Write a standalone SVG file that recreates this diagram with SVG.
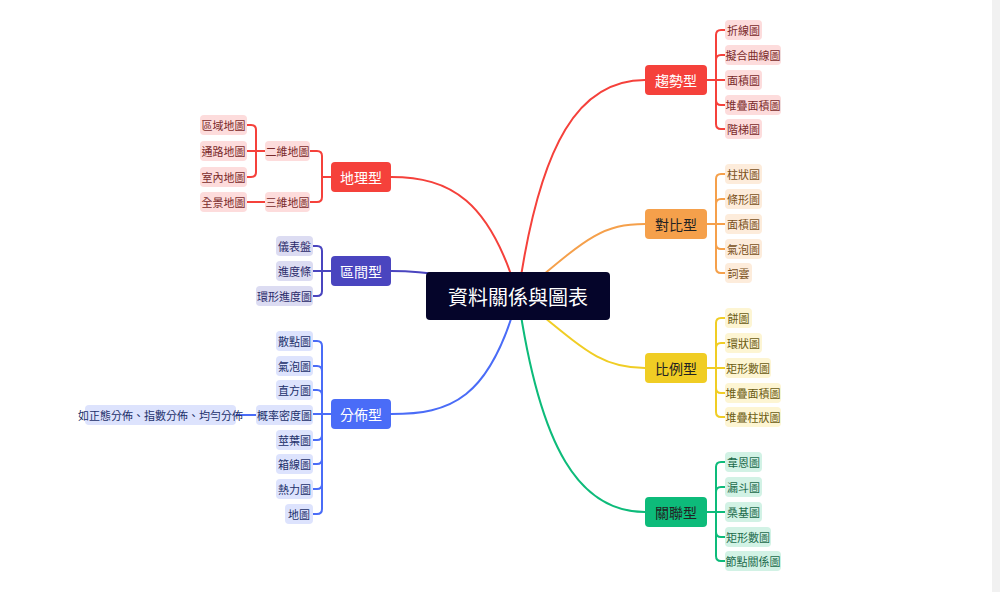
<svg xmlns="http://www.w3.org/2000/svg" width="1000" height="592" viewBox="0 0 1000 592">
<style>
text{font-family:"Noto Sans CJK TC","Noto Sans CJK SC",sans-serif;text-anchor:middle;dominant-baseline:central}
.c{fill:none;stroke-width:2}
.lf{font-size:11px}
.br{font-size:14px}
.red{stroke:#f5413b}.ora{stroke:#f5a04b}.yel{stroke:#f0cd24}.grn{stroke:#0dbb7a}.ind{stroke:#4a45bf}.blu{stroke:#4a6cf7}
</style>
<rect width="1000" height="592" fill="#fff"/>
<rect x="992" y="0" width="8" height="592" fill="#f1f1f1"/>
<g id="connectors">
<path class="c red" d="M518 296 C540 140 580 80 645 80"/>
<path class="c ora" d="M518 296 C585 240 600 224 645 224"/>
<path class="c yel" d="M518 296 C585 350 600 368 645 368"/>
<path class="c grn" d="M518 296 C540 450 580 512 645 512"/>
<path class="c red" d="M518 296 C490 200 450 177 391 177"/>
<path class="c ind" d="M518 296 C450 275 430 271 391 271"/>
<path class="c blu" d="M518 296 C490 400 450 414 391 414"/>
<path class="c red" stroke-width="1.5" d="M707 80H725M716 80V35Q716 30 721 30H725M716 60Q716 55 721 55H725M716 80V124Q716 129 721 129H725M716 100Q716 105 721 105H725"/>
<path class="c ora" stroke-width="1.5" d="M707 224H725M716 224V179Q716 174 721 174H725M716 204Q716 199 721 199H725M716 224V268Q716 273 721 273H725M716 244Q716 249 721 249H725"/>
<path class="c yel" stroke-width="1.5" d="M707 368H725M716 368V323Q716 318 721 318H725M716 348Q716 343 721 343H725M716 368V412Q716 417 721 417H725M716 388Q716 393 721 393H725"/>
<path class="c grn" stroke-width="1.5" d="M707 512H725M716 512V467Q716 462 721 462H725M716 492Q716 487 721 487H725M716 512V556Q716 561 721 561H725M716 532Q716 537 721 537H725"/>
<path class="c red" stroke-width="1.5" d="M331 177H322M322 177V156Q322 151 317 151H310M322 177V197Q322 202 317 202H310"/>
<path class="c red" stroke-width="1.5" d="M265 151H247M256 151V130Q256 125 251 125H247M256 151V172Q256 177 251 177H247M247 202H265"/>
<path class="c ind" stroke-width="1.5" d="M331 271H313M322 271V251Q322 246 317 246H313M322 271V291Q322 296 317 296H313"/>
<path class="c blu" stroke-width="1.5" d="M331 414H313M322 414V346Q322 341 317 341H313M322 371Q322 366 317 366H313M322 395Q322 390 317 390H313M322 435Q322 440 317 440H313M322 414V509Q322 514 317 514H313M322 459Q322 464 317 464H313M322 484Q322 489 317 489H313M256 415H236"/>
</g>
<g id="center"><rect x="426" y="272" width="184" height="48" rx="4" fill="#05052a"/><text x="518" y="296" fill="#fff" font-size="20">資料關係與圖表</text></g>
<g id="b-trend"><rect x="645" y="65" width="62" height="30" rx="4" fill="#f5413b"/><text class="br" x="676" y="80" fill="#fff">趨勢型</text></g>
<g id="b-comp"><rect x="645" y="209" width="62" height="30" rx="4" fill="#f5a04b"/><text class="br" x="676" y="224" fill="#222">對比型</text></g>
<g id="b-prop"><rect x="645" y="353" width="62" height="30" rx="4" fill="#f0cd24"/><text class="br" x="676" y="368" fill="#222">比例型</text></g>
<g id="b-rel"><rect x="645" y="497" width="62" height="30" rx="4" fill="#0dbb7a"/><text class="br" x="676" y="512" fill="#222">關聯型</text></g>
<g id="b-geo"><rect x="331" y="162" width="60" height="30" rx="4" fill="#f5413b"/><text class="br" x="361" y="177" fill="#fff">地理型</text></g>
<g id="b-int"><rect x="331" y="256" width="60" height="30" rx="4" fill="#4a45bf"/><text class="br" x="361" y="271" fill="#fff">區間型</text></g>
<g id="b-dist"><rect x="331" y="399" width="60" height="30" rx="4" fill="#4a6cf7"/><text class="br" x="361" y="414" fill="#fff">分佈型</text></g>
<g id="l-trend" class="lf" fill="#7a2a2a">
<rect x="725" y="20" width="37" height="20" rx="4" fill="#fddcdc"/><text x="743.5" y="30">折線圖</text>
<rect x="725" y="45" width="56" height="20" rx="4" fill="#fddcdc"/><text x="753" y="55">擬合曲線圖</text>
<rect x="725" y="70" width="37" height="20" rx="4" fill="#fddcdc"/><text x="743.5" y="80">面積圖</text>
<rect x="725" y="95" width="56" height="20" rx="4" fill="#fddcdc"/><text x="753" y="105">堆疊面積圖</text>
<rect x="725" y="119" width="37" height="20" rx="4" fill="#fddcdc"/><text x="743.5" y="129">階梯圖</text>
</g>
<g id="l-comp" class="lf" fill="#7a5020">
<rect x="725" y="164" width="37" height="20" rx="4" fill="#fdecdb"/><text x="743.5" y="174">柱狀圖</text>
<rect x="725" y="189" width="37" height="20" rx="4" fill="#fdecdb"/><text x="743.5" y="199">條形圖</text>
<rect x="725" y="214" width="37" height="20" rx="4" fill="#fdecdb"/><text x="743.5" y="224">面積圖</text>
<rect x="725" y="239" width="37" height="20" rx="4" fill="#fdecdb"/><text x="743.5" y="249">氣泡圖</text>
<rect x="725" y="263" width="27" height="20" rx="4" fill="#fdecdb"/><text x="738.5" y="273">詞雲</text>
</g>
<g id="l-prop" class="lf" fill="#6a5a10">
<rect x="725" y="308" width="27" height="20" rx="4" fill="#fdf5d3"/><text x="738.5" y="318">餅圖</text>
<rect x="725" y="333" width="37" height="20" rx="4" fill="#fdf5d3"/><text x="743.5" y="343">環狀圖</text>
<rect x="725" y="358" width="46" height="20" rx="4" fill="#fdf5d3"/><text x="748" y="368">矩形數圖</text>
<rect x="725" y="383" width="56" height="20" rx="4" fill="#fdf5d3"/><text x="753" y="393">堆疊面積圖</text>
<rect x="725" y="407" width="56" height="20" rx="4" fill="#fdf5d3"/><text x="753" y="417">堆疊柱狀圖</text>
</g>
<g id="l-rel" class="lf" fill="#1a6a4a">
<rect x="725" y="452" width="37" height="20" rx="4" fill="#d2f2e5"/><text x="743.5" y="462">韋恩圖</text>
<rect x="725" y="477" width="37" height="20" rx="4" fill="#d2f2e5"/><text x="743.5" y="487">漏斗圖</text>
<rect x="725" y="502" width="37" height="20" rx="4" fill="#d2f2e5"/><text x="743.5" y="512">桑基圖</text>
<rect x="725" y="527" width="46" height="20" rx="4" fill="#d2f2e5"/><text x="748" y="537">矩形數圖</text>
<rect x="725" y="551" width="56" height="20" rx="4" fill="#d2f2e5"/><text x="753" y="561">節點關係圖</text>
</g>
<g id="l-geo" class="lf" fill="#7a2a2a">
<rect x="265" y="141" width="45" height="20" rx="4" fill="#fddcdc"/><text x="287.5" y="151">二維地圖</text>
<rect x="265" y="192" width="45" height="20" rx="4" fill="#fddcdc"/><text x="287.5" y="202">三維地圖</text>
<rect x="200" y="115" width="47" height="20" rx="4" fill="#fddcdc"/><text x="223.5" y="125">區域地圖</text>
<rect x="200" y="141" width="47" height="20" rx="4" fill="#fddcdc"/><text x="223.5" y="151">通路地圖</text>
<rect x="200" y="167" width="47" height="20" rx="4" fill="#fddcdc"/><text x="223.5" y="177">室內地圖</text>
<rect x="200" y="192" width="47" height="20" rx="4" fill="#fddcdc"/><text x="223.5" y="202">全景地圖</text>
</g>
<g id="l-int" class="lf" fill="#2a2a6a">
<rect x="276" y="236" width="37" height="20" rx="4" fill="#dcdcf2"/><text x="294.5" y="246">儀表盤</text>
<rect x="276" y="261" width="37" height="20" rx="4" fill="#dcdcf2"/><text x="294.5" y="271">進度條</text>
<rect x="256" y="286" width="57" height="20" rx="4" fill="#dcdcf2"/><text x="284.5" y="296">環形進度圖</text>
</g>
<g id="l-dist" class="lf" fill="#22306a">
<rect x="276" y="331" width="37" height="20" rx="4" fill="#dde3fd"/><text x="294.5" y="341">散點圖</text>
<rect x="276" y="356" width="37" height="20" rx="4" fill="#dde3fd"/><text x="294.5" y="366">氣泡圖</text>
<rect x="276" y="380" width="37" height="20" rx="4" fill="#dde3fd"/><text x="294.5" y="390">直方圖</text>
<rect x="256" y="405" width="57" height="20" rx="4" fill="#dde3fd"/><text x="284.5" y="415">概率密度圖</text>
<rect x="276" y="430" width="37" height="20" rx="4" fill="#dde3fd"/><text x="294.5" y="440">莖葉圖</text>
<rect x="276" y="454" width="37" height="20" rx="4" fill="#dde3fd"/><text x="294.5" y="464">箱線圖</text>
<rect x="276" y="479" width="37" height="20" rx="4" fill="#dde3fd"/><text x="294.5" y="489">熱力圖</text>
<rect x="285" y="504" width="28" height="20" rx="4" fill="#dde3fd"/><text x="299" y="514">地圖</text>
<rect x="85" y="405" width="151" height="20" rx="4" fill="#dde3fd"/><text x="160.5" y="415">如正態分佈、指數分佈、均勻分佈</text>
</g>
</svg>
